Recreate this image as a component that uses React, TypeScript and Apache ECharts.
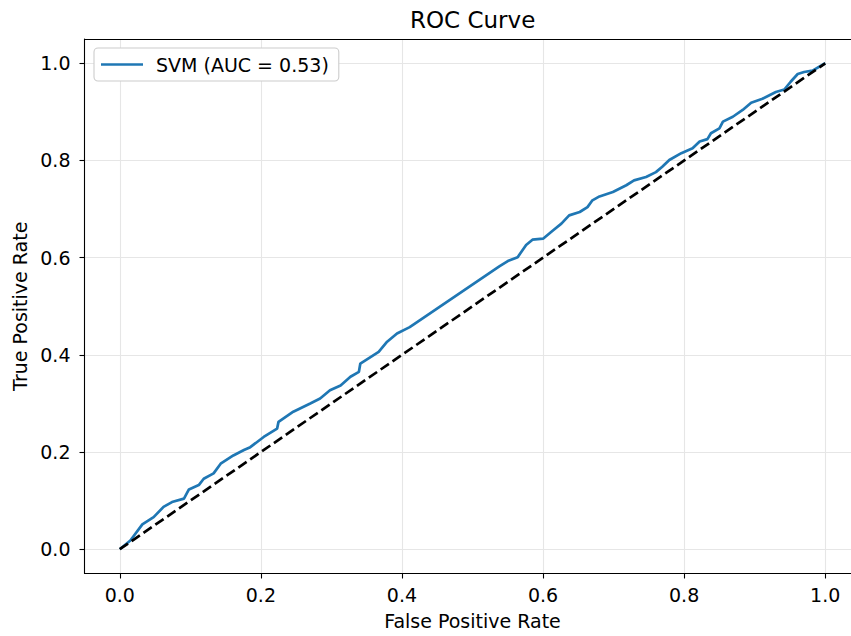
import React, { useEffect, useRef } from "react";
import * as echarts from "echarts";

const seriesName = "SVM (AUC = 0.53)";
const fpr = [0, 0.015, 0.032, 0.048, 0.062, 0.074, 0.091, 0.098, 0.112, 0.119, 0.133, 0.143, 0.161, 0.176, 0.185, 0.204, 0.223, 0.225, 0.246, 0.270, 0.284, 0.298, 0.313, 0.327, 0.339, 0.341, 0.367, 0.379, 0.393, 0.411, 0.538, 0.550, 0.564, 0.576, 0.585, 0.600, 0.614, 0.626, 0.637, 0.652, 0.663, 0.670, 0.680, 0.699, 0.718, 0.729, 0.746, 0.760, 0.769, 0.779, 0.796, 0.812, 0.822, 0.833, 0.838, 0.850, 0.855, 0.869, 0.883, 0.895, 0.911, 0.930, 0.942, 0.951, 0.961, 0.970, 0.982, 1.0];
const tpr = [0, 0.018, 0.051, 0.066, 0.087, 0.097, 0.104, 0.123, 0.132, 0.145, 0.156, 0.176, 0.193, 0.204, 0.210, 0.231, 0.248, 0.262, 0.283, 0.300, 0.310, 0.327, 0.337, 0.355, 0.365, 0.382, 0.406, 0.427, 0.444, 0.457, 0.582, 0.593, 0.601, 0.626, 0.637, 0.639, 0.656, 0.670, 0.687, 0.694, 0.704, 0.718, 0.726, 0.735, 0.749, 0.759, 0.766, 0.776, 0.787, 0.801, 0.815, 0.825, 0.839, 0.844, 0.856, 0.866, 0.880, 0.890, 0.904, 0.919, 0.927, 0.941, 0.946, 0.962, 0.978, 0.982, 0.985, 1.0];
const chanceX = [0, 1];
const chanceY = [0, 1];
const tickValues = [0, 0.2, 0.4, 0.6, 0.8, 1.0];
const axisMin = -0.05;
const axisMax = 1.05;

const FONT = "DejaVu Sans";

export default function App() {
  const ref = useRef<HTMLDivElement>(null);
  useEffect(() => {
    if (!ref.current) return;
    const chart = echarts.init(ref.current, null, { renderer: "svg" });
    const axisCommon = {
      type: "value" as const,
      min: axisMin,
      max: axisMax,
      axisLine: { show: true, onZero: false, lineStyle: { color: "#000", width: 1.1 } },
      axisTick: { show: true, length: 5, customValues: tickValues, lineStyle: { color: "#000", width: 1.1 } },
      axisLabel: {
        customValues: tickValues,
        formatter: (v: number) => v.toFixed(1),
        color: "#000",
        fontFamily: FONT,
        fontSize: 19,
      },
      splitLine: { show: true, lineStyle: { color: "#e6e6e6", width: 1.1 } },
      nameLocation: "middle" as const,
      nameTextStyle: { color: "#000", fontFamily: FONT, fontSize: 19 },
    };
    chart.setOption({
      animation: false,
      backgroundColor: "#fff",
      title: {
        text: "ROC Curve",
        left: 410,
        top: 8,
        padding: 0,
        textStyle: { fontFamily: FONT, fontSize: 23, fontWeight: "normal", color: "#000" },
      },
      legend: {
        data: [seriesName],
        left: 94,
        top: 48,
        orient: "vertical",
        icon: "rect",
        itemWidth: 42,
        itemHeight: 2.7,
        padding: [7, 10, 7, 7],
        backgroundColor: "#fff",
        borderColor: "#cccccc",
        borderWidth: 1.1,
        borderRadius: 4,
        textStyle: { fontFamily: FONT, fontSize: 19, color: "#000", padding: [0, 0, 0, 8] },
      },
      grid: { left: 84.5, top: 39, width: 776, height: 534.5, containLabel: false },
      xAxis: [
        {
          ...axisCommon,
          position: "bottom",
          name: "False Positive Rate",
          nameGap: 38,
          axisLabel: { ...axisCommon.axisLabel, margin: 12 },
        },
        {
          type: "value",
          position: "top",
          min: axisMin,
          max: axisMax,
          axisLine: { show: true, onZero: false, lineStyle: { color: "#000", width: 1.1 } },
          axisTick: { show: false },
          axisLabel: { show: false },
          splitLine: { show: false },
        },
      ],
      yAxis: {
        ...axisCommon,
        position: "left",
        name: "True Positive Rate",
        nameGap: 54,
        axisLabel: { ...axisCommon.axisLabel, margin: 14 },
      },
      series: [
        {
          name: seriesName,
          type: "line",
          xAxisIndex: 0,
          data: fpr.map((x, i) => [x, tpr[i]]),
          showSymbol: false,
          symbol: "none",
          lineStyle: { color: "#1f77b4", width: 2.7 },
          itemStyle: { color: "#1f77b4" },
        },
        {
          name: "chance",
          type: "line",
          xAxisIndex: 0,
          data: chanceX.map((x, i) => [x, chanceY[i]]),
          symbol: "none",
          lineStyle: { color: "#000", width: 2.7, type: [10, 4.4] },
          itemStyle: { color: "#000" },
        },
      ],
    });
    return () => chart.dispose();
  }, []);
  return (
    <div
      style={{ position: "absolute", left: 0, top: 0, width: 851, height: 636, overflow: "hidden", background: "#fff" }}
    >
      <div ref={ref} style={{ width: 880, height: 636 }} />
    </div>
  );
}
